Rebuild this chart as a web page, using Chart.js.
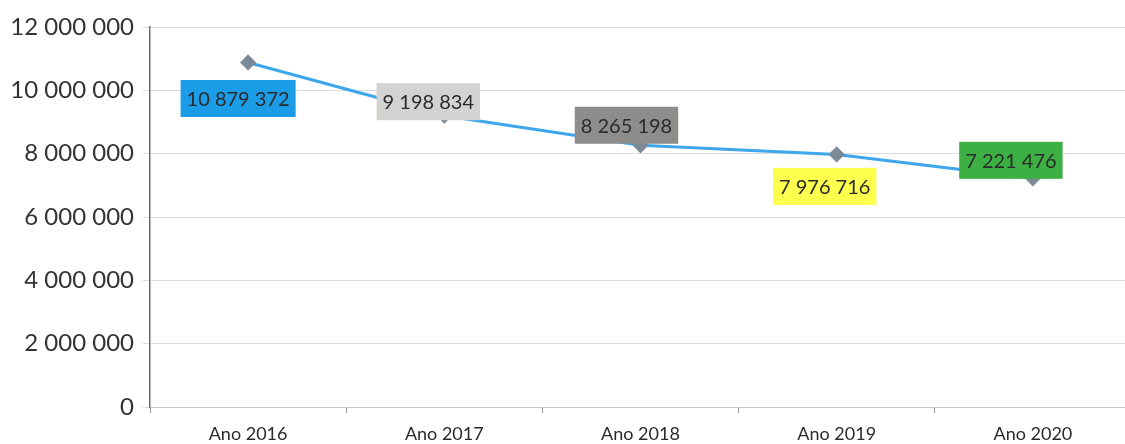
<!DOCTYPE html>
<html>
<head>
<meta charset="utf-8">
<script src="https://cdn.jsdelivr.net/npm/chart.js@4"></script>
<style>
  html, body { margin: 0; padding: 0; background: #fff; overflow: hidden; }
  #wrap { width: 1140px; height: 444px; }
</style>
</head>
<body>
<div id="wrap"><canvas id="lineChart"></canvas></div>
<script>
'use strict'

const years = ["Ano 2016", "Ano 2017", "Ano 2018", "Ano 2019", "Ano 2020"]
const totals = [10879372, 9198834, 8265198, 7976716, 7221476]
const labelColors = ["#1b9ce6", "#d3d3d1", "#8d8d8b", "#ffff4d", "#3db043"]
// where each value box sits relative to its point (px)
const labelOffsets = [[-10, 36], [-16, -14], [-14, -20], [-12, 32], [-22, -18]]

const fmt = v => Math.round(v).toString().replace(/\B(?=(\d{3})+(?!\d))/g, " ")
const fontName = 'Lato, "Open Sans", sans-serif'

const valueBoxes = {
    id: 'valueBoxes',
    afterDatasetsDraw(chart) {
        const ctx = chart.ctx
        const meta = chart.getDatasetMeta(0)
        ctx.save()
        ctx.font = '20px ' + fontName
        ctx.textAlign = 'center'
        ctx.textBaseline = 'middle'
        meta.data.forEach((pt, i) => {
            const text = fmt(totals[i])
            const cx = pt.x + labelOffsets[i][0]
            const cy = pt.y + labelOffsets[i][1]
            const w = ctx.measureText(text).width + 12
            const h = 37
            ctx.fillStyle = labelColors[i]
            ctx.fillRect(cx - w / 2, cy - h / 2, w, h)
            ctx.fillStyle = "#2b2b2b"
            ctx.fillText(text, cx, cy + 1)
        })
        ctx.restore()
    }
}

const some = document.getElementById('lineChart').getContext('2d')

new Chart(some, {
    type: 'line',
    data: {
        labels: years,
        datasets: [{
            label: 'Total',
            data: totals,
            borderColor: '#3ea6ea',
            borderWidth: 3,
            tension: 0,
            pointStyle: 'rectRot',
            pointRadius: 6,
            pointBackgroundColor: '#7c8a97',
            pointBorderColor: '#7c8a97',
        }]
    },
    options: {
        responsive: true,
        maintainAspectRatio: false,
        animation: false,
        layout: { padding: { top: 27, right: 0, left: 0, bottom: 0 } },
        plugins: {
            legend: { display: false },
            tooltip: { enabled: false }
        },
        scales: {
            x: {
                offset: true,
                afterFit: s => { s.height = 37 },
                grid: {
                    offset: true,
                    drawOnChartArea: false,
                    tickLength: 6,
                    color: '#9a9a9a'
                },
                border: { color: '#c8c8c8' },
                ticks: {
                    color: '#2b2b2b',
                    font: { family: fontName, size: 18 },
                    padding: 10
                }
            },
            y: {
                min: 0,
                max: 12000000,
                afterFit: s => { s.width = 150 },
                ticks: {
                    stepSize: 2000000,
                    color: '#333333',
                    font: { family: fontName, size: 24 },
                    padding: 9,
                    callback: v => fmt(v)
                },
                grid: {
                    color: '#dcdcdc',
                    tickLength: 7,
                    lineWidth: 1
                },
                border: { color: '#6a6a6a', width: 1.5 }
            }
        }
    },
    plugins: [valueBoxes]
})
</script>
</body>
</html>
